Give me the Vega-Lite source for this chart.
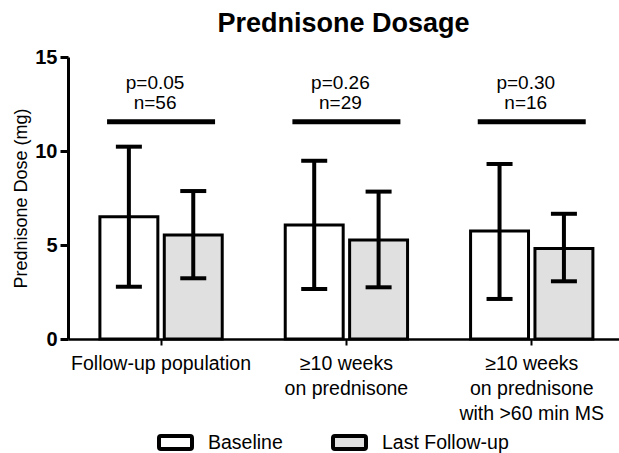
{
  "$schema": "https://vega.github.io/schema/vega-lite/v6.json",
  "width": 551,
  "height": 282,
  "autosize": {"type": "none"},
  "padding": {"left": 68, "top": 57, "right": 0, "bottom": 114},
  "background": "white",
  "title": {"text": "Prednisone Dosage", "fontSize": 27, "font": "Liberation Sans", "fontWeight": "bold", "offset": 9, "anchor": "middle", "color": "black"},
  "datasets": {
    "bars": [
      {"group": "Follow-up population", "series": "Baseline", "mean": 6.5, "lo": 2.78, "hi": 10.23},
      {"group": "Follow-up population", "series": "Last Follow-up", "mean": 5.53, "lo": 3.23, "hi": 7.87},
      {"group": "≥10 weeks|on prednisone", "series": "Baseline", "mean": 6.06, "lo": 2.66, "hi": 9.48},
      {"group": "≥10 weeks|on prednisone", "series": "Last Follow-up", "mean": 5.27, "lo": 2.75, "hi": 7.84},
      {"group": "≥10 weeks|on prednisone|with >60 min MS", "series": "Baseline", "mean": 5.74, "lo": 2.13, "hi": 9.31},
      {"group": "≥10 weeks|on prednisone|with >60 min MS", "series": "Last Follow-up", "mean": 4.82, "lo": 3.07, "hi": 6.66}
    ],
    "notes": [
      {"group": "Follow-up population", "label": "p=0.05\nn=56", "ty": 13.63, "bracket": 11.56},
      {"group": "≥10 weeks|on prednisone", "label": "p=0.26\nn=29", "ty": 13.63, "bracket": 11.56},
      {"group": "≥10 weeks|on prednisone|with >60 min MS", "label": "p=0.30\nn=16", "ty": 13.63, "bracket": 11.56}
    ]
  },
  "config": {
    "view": {"stroke": null},
    "font": "Liberation Sans",
    "axis": {"grid": false, "domainColor": "black", "tickColor": "black", "labelColor": "black", "titleColor": "black", "labelFont": "Liberation Sans", "titleFont": "Liberation Sans"}
  },
  "encoding": {
    "x": {
      "field": "group", "type": "nominal",
      "scale": {"domain": ["Follow-up population", "≥10 weeks|on prednisone", "≥10 weeks|on prednisone|with >60 min MS"], "paddingInner": 0.34, "paddingOuter": 0.1565, "align": 0.55},
      "axis": {"title": null, "labelAngle": 0, "labelExpr": "split(datum.label, '|')", "labelFontSize": 19.5, "labelLineHeight": 25, "labelPadding": 9, "tickSize": 6, "tickWidth": 2, "domainWidth": 2.5, "labelBaseline": "top"}
    }
  },
  "layer": [
    {
      "data": {"name": "bars"},
      "mark": {"type": "bar", "stroke": "black", "strokeWidth": 3, "opacity": 1},
      "encoding": {
        "xOffset": {"field": "series", "type": "nominal", "scale": {"domain": ["Baseline", "Last Follow-up"], "paddingInner": 0.1}},
        "y": {"field": "mean", "type": "quantitative", "scale": {"domain": [0, 15], "nice": false},
          "axis": {"title": "Prednisone Dose (mg)", "titleFontSize": 18, "titleFontWeight": "normal", "titlePadding": 4, "values": [0, 5, 10, 15], "labelFontSize": 20, "labelFontWeight": "bold", "labelPadding": 3, "tickSize": 8, "tickWidth": 3, "domainWidth": 3}},
        "fill": {"field": "series", "type": "nominal", "scale": {"domain": ["Baseline", "Last Follow-up"], "range": ["#ffffff", "#e0e0e0"]},
          "legend": {"title": null, "orient": "none", "legendX": 89, "legendY": 367, "direction": "horizontal", "padding": 0,
            "symbolType": "M-0.88,-0.39 L0.88,-0.39 Q1,-0.39 1,-0.27 L1,0.27 Q1,0.39 0.88,0.39 L-0.88,0.39 Q-1,0.39 -1,0.27 L-1,-0.27 Q-1,-0.39 -0.88,-0.39 Z",
            "symbolSize": 1089, "symbolStrokeColor": "black", "symbolStrokeWidth": 4, "symbolOpacity": 1, "labelFontSize": 19.5, "labelColor": "black", "labelFont": "Liberation Sans", "labelOffset": 14, "columnPadding": 42}}
      }
    },
    {
      "data": {"name": "bars"},
      "mark": {"type": "rule", "color": "black", "strokeWidth": 4, "opacity": 1},
      "encoding": {
        "xOffset": {"field": "series", "type": "nominal"},
        "y": {"field": "lo", "type": "quantitative"},
        "y2": {"field": "hi"}
      }
    },
    {
      "data": {"name": "bars"},
      "mark": {"type": "tick", "color": "black", "size": 26, "thickness": 4, "opacity": 1},
      "encoding": {
        "xOffset": {"field": "series", "type": "nominal"},
        "y": {"field": "lo", "type": "quantitative"}
      }
    },
    {
      "data": {"name": "bars"},
      "mark": {"type": "tick", "color": "black", "size": 26, "thickness": 4, "opacity": 1},
      "encoding": {
        "xOffset": {"field": "series", "type": "nominal"},
        "y": {"field": "hi", "type": "quantitative"}
      }
    },
    {
      "data": {"name": "notes"},
      "mark": {"type": "tick", "color": "black", "size": 108, "thickness": 5, "opacity": 1},
      "encoding": {
        "y": {"field": "bracket", "type": "quantitative"}
      }
    },
    {
      "data": {"name": "notes"},
      "mark": {"type": "text", "fontSize": 19, "color": "black", "lineBreak": "\n", "lineHeight": 20, "baseline": "middle", "align": "center", "dx": -6},
      "encoding": {
        "y": {"field": "ty", "type": "quantitative"},
        "text": {"field": "label"}
      }
    }
  ]
}
